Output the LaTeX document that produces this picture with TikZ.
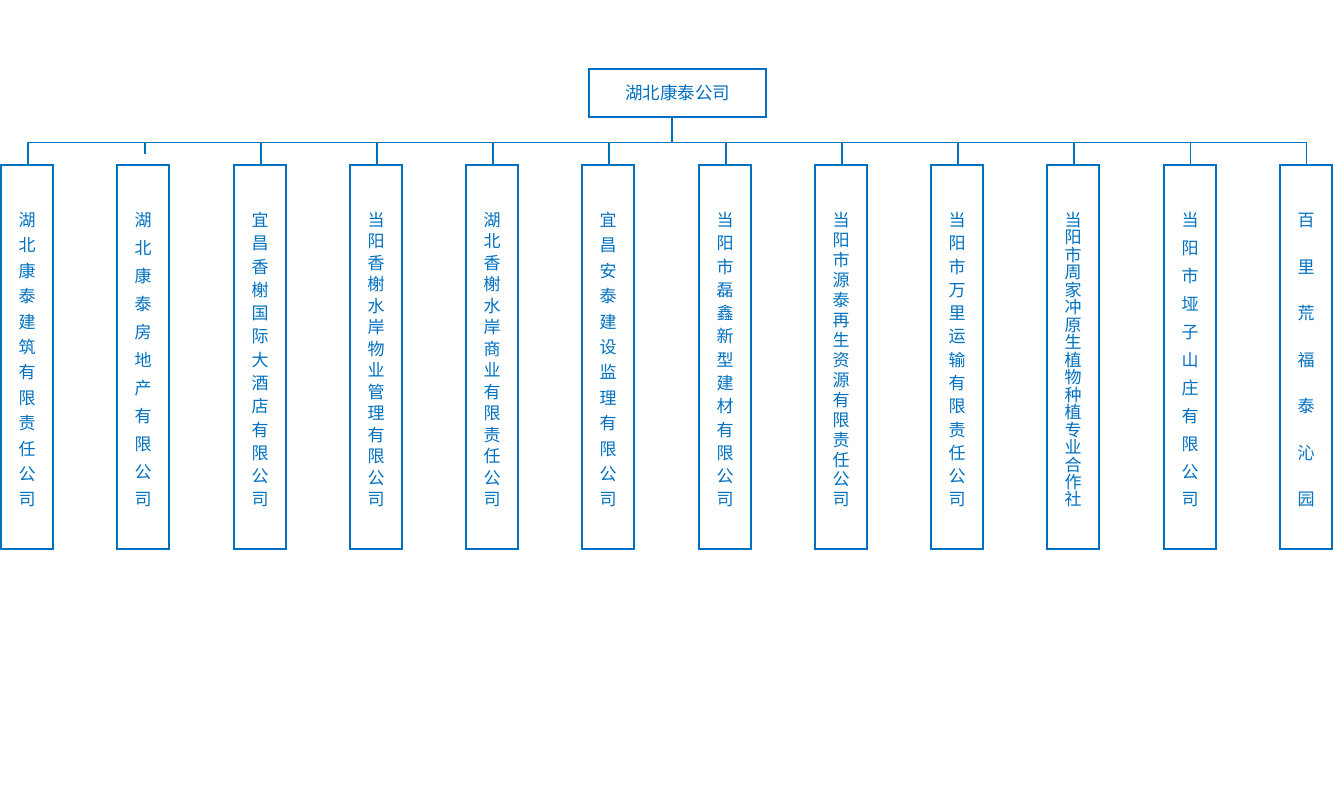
\documentclass[tikz,border=0pt]{standalone}
\usepackage{fontspec}
\newfontfamily\cjk{Noto Sans CJK SC}
\definecolor{kt}{RGB}{0,112,192}
\makeatletter
\newcommand\vstackchars[1]{\vbox to 296.5pt{\offinterlineskip\vskip 0pt plus -1fill\@tfor\kch:=#1\do{\vfill\hbox to 20pt{\hss\rule[-0.12em]{0pt}{1em}\kch\hss}}\kern0pt}}
\makeatother
\tikzset{
  kbox/.style={draw=kt, line width=2pt, inner sep=0pt, minimum width=52pt, minimum height=384pt},
  topbox/.style={draw=kt, line width=2pt, inner sep=0pt, minimum width=177pt, minimum height=48pt, text=kt, font=\cjk\fontsize{17.5}{17.5}\selectfont},
  ktext/.style={inner sep=0pt, text=kt, font=\cjk\fontsize{17}{17}\selectfont},
  link/.style={draw=kt, line width=1.5pt}
}
\begin{document}
\begin{tikzpicture}[x=1pt,y=-1pt]
\path[use as bounding box] (0,0) rectangle (1334,789);
\node[topbox] (top) at (677.5,93) {湖北康泰公司};
\coordinate (bus) at (28,142.5);
\foreach \i/\x in {1/27,2/143,3/260,4/376,5/492,6/608,7/725,8/841,9/957,10/1073,11/1190,12/1306}{
  \node[kbox] (b\i) at (\x,357) {};
}
\node[ktext] (t1) at ([yshift=-2.75pt]b1.center) {\vstackchars{湖北康泰建筑有限责任公司}};
\node[ktext] (t2) at ([yshift=-2.75pt]b2.center) {\vstackchars{湖北康泰房地产有限公司}};
\node[ktext] (t3) at ([yshift=-2.75pt]b3.center) {\vstackchars{宜昌香榭国际大酒店有限公司}};
\node[ktext] (t4) at ([yshift=-2.75pt]b4.center) {\vstackchars{当阳香榭水岸物业管理有限公司}};
\node[ktext] (t5) at ([yshift=-2.75pt]b5.center) {\vstackchars{湖北香榭水岸商业有限责任公司}};
\node[ktext] (t6) at ([yshift=-2.75pt]b6.center) {\vstackchars{宜昌安泰建设监理有限公司}};
\node[ktext] (t7) at ([yshift=-2.75pt]b7.center) {\vstackchars{当阳市磊鑫新型建材有限公司}};
\node[ktext] (t8) at ([yshift=-2.75pt]b8.center) {\vstackchars{当阳市源泰再生资源有限责任公司}};
\node[ktext] (t9) at ([yshift=-2.75pt]b9.center) {\vstackchars{当阳市万里运输有限责任公司}};
\node[ktext] (t10) at ([yshift=-2.75pt]b10.center) {\vstackchars{当阳市周家冲原生植物种植专业合作社}};
\node[ktext] (t11) at ([yshift=-2.75pt]b11.center) {\vstackchars{当阳市垭子山庄有限公司}};
\node[ktext] (t12) at ([yshift=-2.75pt]b12.center) {\vstackchars{百里荒福泰沁园}};
% connectors
\draw[link] ([xshift=-5.5pt]top.south) -- ([xshift=-5.5pt]top.south |- bus);
\draw[link] ([xshift=1pt]b1.north |- bus) -- ([xshift=0.5pt]b12.north |- bus);
\foreach \i/\s in {1/1,3/1,4/1,5/1,6/1,7/1,8/1,9/1,10/1,11/0.5,12/0.5}{
  \draw[link] ([xshift=\s pt]b\i.north |- bus) -- ([xshift=\s pt]b\i.north);
}
\draw[link] ([xshift=2pt]b2.north |- bus) -- ++(0,12);
\end{tikzpicture}
\end{document}
